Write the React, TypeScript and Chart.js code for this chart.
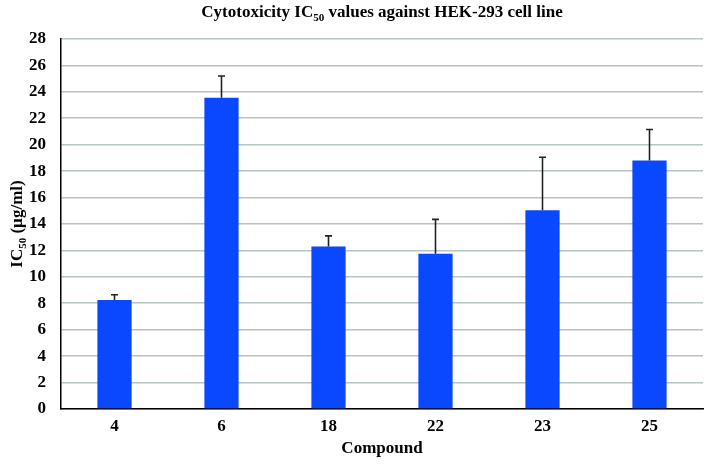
import { useEffect, useRef } from "react";
import { Chart, registerables } from "chart.js";

Chart.register(...registerables);

const categories = ["4", "6", "18", "22", "23", "25"];
const ic50Values = [8.25, 23.55, 12.3, 11.75, 15.05, 18.8];
const ic50Errors = [0.4, 1.65, 0.8, 2.6, 4.0, 2.35];
const yMin = 0;
const yMax = 28;
const yStep = 2;

const titleParts = [
  { text: "Cytotoxicity IC", sub: false },
  { text: "50", sub: true },
  { text: " values against HEK-293 cell line", sub: false },
];
const yTitleParts = [
  { text: "IC", sub: false },
  { text: "50", sub: true },
  { text: " (µg/ml)", sub: false },
];
const xTitle = "Compound";

const FAMILY = "'Liberation Serif', 'Times New Roman', serif";

function drawRich(
  ctx: CanvasRenderingContext2D,
  parts: { text: string; sub: boolean }[],
  cx: number,
  baseline: number,
  size: number
) {
  const subSize = Math.round(size * 0.65);
  let total = 0;
  const widths: number[] = [];
  for (const p of parts) {
    ctx.font = `bold ${p.sub ? subSize : size}px ${FAMILY}`;
    const w = ctx.measureText(p.text).width;
    widths.push(w);
    total += w;
  }
  let x = cx - total / 2;
  ctx.textAlign = "left";
  ctx.textBaseline = "alphabetic";
  ctx.fillStyle = "#000";
  parts.forEach((p, i) => {
    ctx.font = `bold ${p.sub ? subSize : size}px ${FAMILY}`;
    ctx.fillText(p.text, x, baseline + (p.sub ? size * 0.22 : 0));
    x += widths[i];
  });
}

const errorBarPlugin = {
  id: "errorBars",
  afterDatasetsDraw(chart: any) {
    const ctx = chart.ctx as CanvasRenderingContext2D;
    const meta = chart.getDatasetMeta(0);
    const yScale = chart.scales.y;
    ctx.save();
    ctx.strokeStyle = "#222";
    ctx.lineWidth = 1.6;
    meta.data.forEach((el: any, i: number) => {
      const top = yScale.getPixelForValue(ic50Values[i] + ic50Errors[i]);
      const base = el.y;
      ctx.beginPath();
      ctx.moveTo(el.x, base);
      ctx.lineTo(el.x, top);
      ctx.moveTo(el.x - 3.5, top);
      ctx.lineTo(el.x + 3.5, top);
      ctx.stroke();
    });
    ctx.restore();
  },
};

const textPlugin = {
  id: "richTitles",
  afterDraw(chart: any) {
    const ctx = chart.ctx as CanvasRenderingContext2D;
    const area = chart.chartArea;
    ctx.save();
    drawRich(ctx, titleParts, (area.left + area.right) / 2, 17, 17);
    ctx.translate(22, (area.top + area.bottom) / 2);
    ctx.rotate(-Math.PI / 2);
    drawRich(ctx, yTitleParts, 0, 0, 17);
    ctx.restore();
  },
};

export default function App() {
  const ref = useRef<HTMLCanvasElement>(null);
  useEffect(() => {
    if (!ref.current) return;
    const chart = new Chart(ref.current, {
      type: "bar",
      data: {
        labels: categories,
        datasets: [
          {
            data: ic50Values,
            backgroundColor: "#0a48ff",
            borderWidth: 0,
            categoryPercentage: 1,
            barPercentage: 0.32,
          },
        ],
      },
      options: {
        responsive: false,
        animation: false,
        devicePixelRatio: 1,
        layout: { padding: { top: 39, right: 5, left: 0, bottom: 0 } },
        plugins: {
          legend: { display: false },
          tooltip: { enabled: false },
          title: { display: false },
        },
        scales: {
          x: {
            grid: { display: false, drawTicks: false },
            border: { color: "#000", width: 1.5 },
            ticks: {
              color: "#000",
              padding: 7,
              font: { family: FAMILY, size: 17, weight: "bold" },
            },
            title: {
              display: true,
              text: xTitle,
              color: "#000",
              font: { family: FAMILY, size: 17, weight: "bold" },
              padding: { top: 0, bottom: 5 },
            },
            afterFit: (s: any) => {
              s.height = 55;
            },
          },
          y: {
            min: yMin,
            max: yMax,
            ticks: {
              stepSize: yStep,
              color: "#000",
              padding: 15,
              font: { family: FAMILY, size: 17, weight: "bold" },
            },
            grid: { color: "#b8c3c3", lineWidth: 1.6, drawTicks: false },
            border: { color: "#000", width: 1.5 },
            afterFit: (s: any) => {
              s.width = 61;
            },
          },
        },
      },
      plugins: [errorBarPlugin, textPlugin],
    });
    return () => chart.destroy();
  }, []);
  return (
    <div style={{ position: "absolute", left: 0, top: 0, width: 708, height: 464, background: "#fff" }}>
      <canvas ref={ref} width={708} height={464} style={{ display: "block" }} />
    </div>
  );
}
